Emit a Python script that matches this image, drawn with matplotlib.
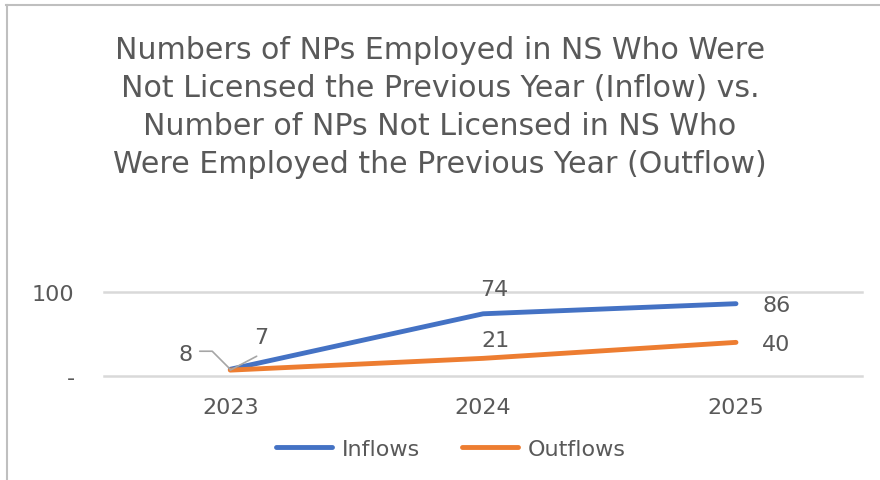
import matplotlib.pyplot as plt
from matplotlib.lines import Line2D

# chart values
years = ['2023', '2024', '2025']
inflows = [8, 74, 86]
outflows = [7, 21, 40]

title = ('Numbers of NPs Employed in NS Who Were\n'
         'Not Licensed the Previous Year (Inflow) vs.\n'
         'Number of NPs Not Licensed in NS Who\n'
         'Were Employed the Previous Year (Outflow)')

txt = '#595959'
blue = '#4472C4'
orange = '#ED7D31'
grid = '#D9D9D9'
fs = 16

plt.rcParams['font.family'] = ['DejaVu Sans']

fig = plt.figure(figsize=(8.8, 4.81), dpi=100)
ax = fig.add_axes([0.118, 0.2162, 0.862, 0.1748])

x = list(range(len(years)))
ax.plot(x, inflows, color=blue, lw=3.5, solid_capstyle='round', label='Inflows')
ax.plot(x, outflows, color=orange, lw=3.5, solid_capstyle='round', label='Outflows')

ax.set_xlim(-0.5, len(years) - 0.5)
ax.set_ylim(0, 100)
ax.set_yticks([0, 100])
ax.set_yticklabels(['-', '100'])
ax.set_xticks(x)
ax.set_xticklabels(years)
ax.tick_params(length=0, labelsize=fs, colors=txt)
ax.tick_params(axis='x', pad=15)
ax.tick_params(axis='y', pad=21)
for s in ax.spines.values():
    s.set_visible(False)
for v in [0, 100]:
    ax.axhline(v, color=grid, lw=1.8, zorder=0, clip_on=False)

# data labels
lab = dict(fontsize=fs, color=txt)
ax.annotate(str(inflows[1]), (1, inflows[1]), xytext=(8, 18), textcoords='offset points',
            ha='center', va='center', **lab)
ax.annotate(str(outflows[1]), (1, outflows[1]), xytext=(9, 13), textcoords='offset points',
            ha='center', va='center', **lab)
ax.annotate(str(inflows[2]), (2, inflows[2]), xytext=(19, -1), textcoords='offset points',
            ha='left', va='center', **lab)
ax.annotate(str(outflows[2]), (2, outflows[2]), xytext=(19, -1), textcoords='offset points',
            ha='left', va='center', **lab)
# leader lines at 2023
ax.annotate(str(inflows[0]), (0, inflows[0]), xytext=(-32, 11), textcoords='offset points',
            ha='center', va='center', **lab)
ax.annotate('', (0, inflows[0]), xytext=(-22, 13), textcoords='offset points',
            arrowprops=dict(arrowstyle='-', color='#A6A6A6', lw=1.2,
                            connectionstyle='angle,angleA=0,angleB=135,rad=0',
                            shrinkA=0, shrinkB=0))
ax.annotate(str(outflows[0]), (0, outflows[0]), xytext=(22, 24), textcoords='offset points',
            ha='center', va='center', **lab)
ax.annotate('', (0, outflows[0]), xytext=(19, 10), textcoords='offset points',
            arrowprops=dict(arrowstyle='-', color='#A6A6A6', lw=1.2,
                            shrinkA=0, shrinkB=0))

fig.text(0.5, 0.7765, title, ha='center', va='center', fontsize=21.6, color=txt,
         linespacing=1.38)

handles = [Line2D([], [], color=blue, lw=3.5, solid_capstyle='round'),
           Line2D([], [], color=orange, lw=3.5, solid_capstyle='round')]
fig.legend(handles, ['Inflows', 'Outflows'], loc='center', bbox_to_anchor=(0.5125, 0.065),
           ncol=2, frameon=False, fontsize=fs, labelcolor=txt, handlelength=2.5,
           columnspacing=1.9, handletextpad=0.45)

# chart border (top and left only visible)
fig.add_artist(Line2D([0.007, 1], [0.987, 0.987], color='#BFBFBF', lw=1.5))
fig.add_artist(Line2D([0.008, 0.008], [0, 0.987], color='#BFBFBF', lw=1.5))

fig.savefig('out.png', dpi=100)
